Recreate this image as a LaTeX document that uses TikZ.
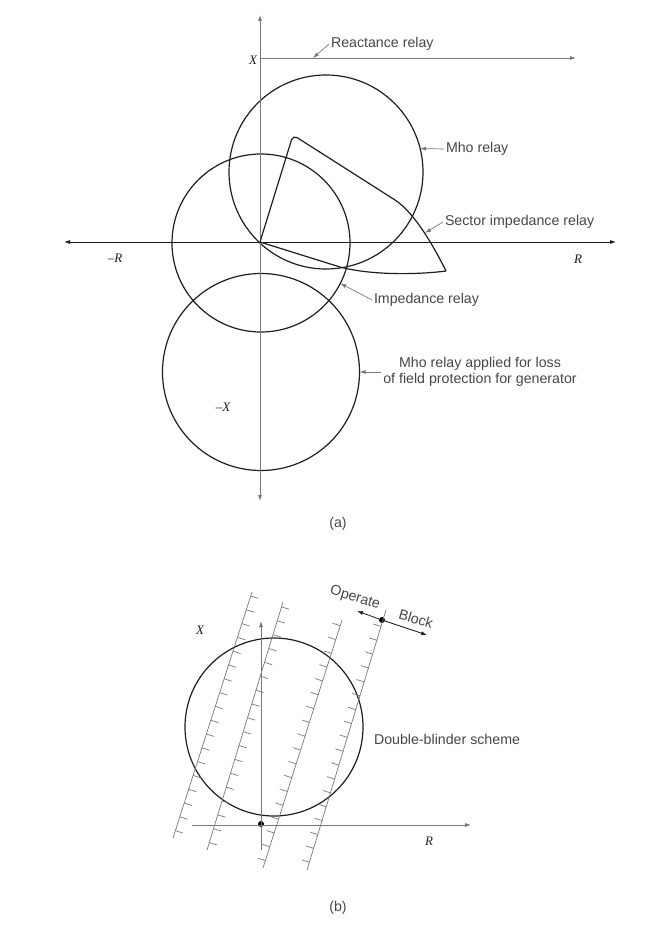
\documentclass[tikz,border=0pt]{standalone}
\usepackage{fontspec}
\setmainfont{Liberation Sans}
\newfontfamily\axisfont{Liberation Serif}
\usetikzlibrary{arrows.meta,decorations.markings,positioning}
\definecolor{axisColor}{RGB}{120,120,120}
\definecolor{inkColor}{RGB}{30,30,30}
\definecolor{textColor}{RGB}{70,70,70}
\tikzset{relay/.style={circle, draw=inkColor, line width=1.2pt, inner sep=0pt, outer sep=0pt}}
\tikzset{relaylabel/.style={text=textColor, font=\fontsize{14.2}{16}\selectfont, inner sep=1pt, outer sep=1pt, align=center}}
\tikzset{axisname/.style={text=inkColor, font=\axisfont\itshape\fontsize{13}{14}\selectfont, inner sep=0pt}}
\tikzset{blackdot/.style={circle, fill=black, inner sep=0pt, minimum size=6pt}}
\tikzset{blinderright/.style={draw=axisColor, line width=.7pt, postaction={decorate}, decoration={markings, mark=between positions 0.03 and 0.99 step 14.5pt with {\draw[axisColor, line width=.7pt] (0,0) -- (0,-8pt);}}}}
\tikzset{blinderleft/.style={draw=axisColor, line width=.7pt, postaction={decorate}, decoration={markings, mark=between positions 0.03 and 0.99 step 14.5pt with {\draw[axisColor, line width=.7pt] (0,0) -- (0,8pt);}}}}
\tikzstyle{arrow} = [-{Latex[length=6pt,width=4pt]}, line width=.8pt]
\tikzstyle{pointer} = [-{Latex[length=6pt,width=4pt]}, axisColor, line width=.7pt]

\begin{document}
\begin{tikzpicture}[x=1pt, y=-1pt]
	\useasboundingbox (0,0) rectangle (653,925);
	% Nodes
	\coordinate (origin) at (260,242);
	\coordinate (xtop) at (260,15);
	\coordinate (xbottom) at (260,501);
	\coordinate (rleft) at (64,242);
	\coordinate (rright) at (616,242);
	\coordinate (reactstart) at (260,58);
	\coordinate (reactend) at (576,58);
	\coordinate (reacttip) at (313,58);
	\coordinate (sectortip) at (425,233);

	\node (mho) [relay, minimum size=194pt] at (326,172) {};
	\node (impedance) [relay, minimum size=178pt] at (261,243) {};
	\node (loss) [relay, minimum size=197pt] at (261,372) {};

	\node (reactlabel) [relaylabel, anchor=west] at (329,44) {Reactance relay};
	\node (mholabel) [relaylabel, anchor=west] at (444,149) {Mho relay};
	\node (sectorlabel) [relaylabel, anchor=west] at (443,222) {Sector impedance relay};
	\node (implabel) [relaylabel, anchor=west] at (372,300) {Impedance relay};
	\node (losslabel) [relaylabel] at (480,372) {Mho relay applied for loss\\of field protection for generator};

	\node (xname) [axisname] at (253,60) {X};
	\node (rname) [axisname] at (578,259) {R};
	\node (mrname) [axisname] at (115,258) {–R};
	\node (mxname) [axisname] at (223,407) {–X};
	\node (partA) [relaylabel] at (338,524) {(a)};

	% Connectors
	\draw [{Latex[length=6pt,width=4pt]}-{Latex[length=6pt,width=4pt]}, axisColor, line width=.8pt] (xbottom) -- (xtop);
	\draw [{Latex[length=6pt,width=4pt]}-{Latex[length=6pt,width=4pt]}, inkColor, line width=.8pt] (rleft) -- (rright);
	\draw [arrow, axisColor] (reactstart) -- (reactend);

	\draw [inkColor, line width=1.2pt, rounded corners=5pt] (origin) -- (293,135) -- (395,200);
	\draw [inkColor, line width=1.2pt] (395,200) .. controls (415,213) and (434,247) .. (446,271);
	\draw [inkColor, line width=1.2pt] (446,271) .. controls (415,275) and (370,275) .. (340,267) -- (origin);

	\draw [pointer] (reactlabel.west) -- (reacttip);
	\draw [pointer] (mholabel.west) -- (mho.14);
	\draw [pointer] (sectorlabel.west) -- (sectortip);
	\draw [pointer] (implabel.west) -- (impedance.-27);
	\draw [pointer] (losslabel.west) -- (loss.east);

	% Double-blinder part
	\coordinate (bzero) at (261,824);
	\coordinate (bxtop) at (261,621);
	\coordinate (bxbottom) at (261,850);
	\coordinate (brleft) at (192,825);
	\coordinate (brright) at (471,825);
	\coordinate (aone) at (173,838);
	\coordinate (bone) at (252,592);
	\coordinate (atwo) at (207,850);
	\coordinate (btwo) at (283,602);
	\coordinate (athree) at (263,868);
	\coordinate (bthree) at (342,620);
	\coordinate (afour) at (307,870);
	\coordinate (bfour) at (386,610);
	\coordinate (operatetip) at (357,611);
	\coordinate (blocktip) at (427,635);

	\node (scheme) [relay, minimum size=178pt] at (274,727) {};
	\node (originpt) [blackdot] at (bzero) {};
	\node (blinderpt) [blackdot] at (382,620) {};

	\node (schemelabel) [relaylabel, anchor=west] at (372,739) {Double-blinder scheme};
	\node (operatelabel) [relaylabel, rotate=-17, inner sep=0pt, outer sep=0pt] at (355,598) {Operate};
	\node (blocklabel) [relaylabel, rotate=-17, inner sep=0pt, outer sep=0pt] at (416,619) {Block};
	\node (bxname) [axisname] at (200,630) {X};
	\node (brname) [axisname] at (429,841) {R};
	\node (partB) [relaylabel] at (338,908) {(b)};

	\draw [arrow, axisColor] (bxbottom) -- (bxtop);
	\draw [arrow, axisColor] (brleft) -- (brright);
	\draw [blinderright] (aone) -- (bone);
	\draw [blinderright] (atwo) -- (btwo);
	\draw [blinderleft] (athree) -- (bthree);
	\draw [blinderleft] (afour) -- (bfour);
	\draw [arrow, inkColor] (blinderpt) -- (operatetip);
	\draw [arrow, inkColor] (blinderpt) -- (blocktip);

\end{tikzpicture}
\end{document}
